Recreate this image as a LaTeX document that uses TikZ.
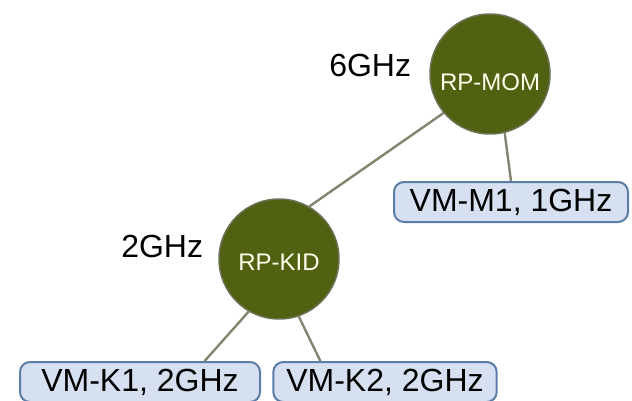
\documentclass[tikz,border=0pt]{standalone}
\usepackage{fontspec}
\setmainfont{Liberation Sans}
\usepackage{xcolor}
\usetikzlibrary{positioning}
\definecolor{poolgreen}{RGB}{80,97,18}
\definecolor{poolrim}{RGB}{108,114,86}
\definecolor{vmfill}{RGB}{214,224,240}
\definecolor{vmrim}{RGB}{92,124,168}
\definecolor{linkgray}{RGB}{132,132,112}

\begin{document}
\begin{tikzpicture}[x=1pt, y=-1pt,
        pool/.style={circle, draw=poolrim, line width=1.5pt, fill=poolgreen, minimum size=120pt, inner sep=0pt, text=yellow!8, text depth=0pt, font=\fontsize{24}{28}\selectfont},
        vm/.style={rectangle, rounded corners=10pt, draw=vmrim, line width=2pt, fill=vmfill, minimum height=40pt, inner xsep=13pt, inner ysep=0pt, font=\fontsize{32}{36}\selectfont},
        freq/.style={font=\fontsize{32}{36}\selectfont, inner sep=0pt},
        link/.style={linkgray, line width=2.4pt}
    ]
        \useasboundingbox (0,0) rectangle (632,401);
        \node[pool, text height=33pt] (mom) at (490,74) {RP-MOM};
        \node[pool, text height=23pt] (kid) at (279,259) {RP-KID};
        \node[vm, minimum width=234pt] (vmm1) at (511,202) {VM-M1, 1GHz};
        \node[vm, minimum width=240pt] (vmk1) at (140,382) {VM-K1, 2GHz};
        \node[vm] (vmk2) at (385,382) {VM-K2, 2GHz};
        \node[freq, left=18pt of mom, yshift=9pt] (momfreq) {6GHz};
        \node[freq, left=15pt of kid, yshift=13pt] (kidfreq) {2GHz};

        \draw[link] (mom.220) -- (kid.60);
        \draw[link] (mom.284) -- (vmm1.north);
        \draw[link] (kid.240) -- (vmk1.18);
        \draw[link] (kid.289) -- (vmk2.162);
    \end{tikzpicture}
\end{document}
